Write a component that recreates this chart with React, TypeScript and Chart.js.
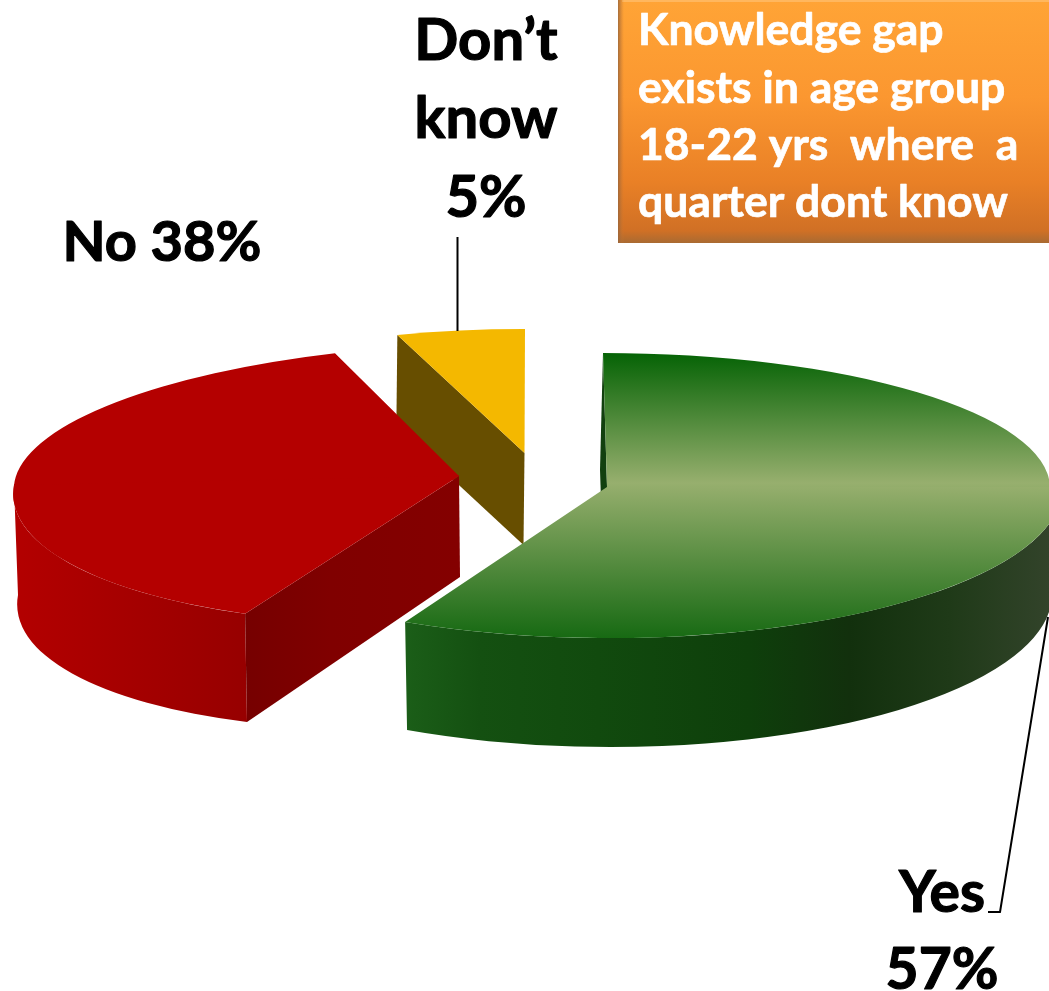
import React, { useEffect, useRef } from "react";
import { Chart, registerables } from "chart.js";

Chart.register(...registerables);

const categories = ["Yes", "No", "Don’t know"];
const shares = [57, 38, 5];
const calloutLines = [
  "Knowledge gap",
  "exists in age group",
  "18-22 yrs  where  a",
  "quarter dont know",
];

type M = [number, number, number, number, number, number];
const R = 100;
const FONT = "Lato, 'Open Sans', sans-serif";

// affine views of the unit pie: x' = a x + b y + e, y' = c x + d y + f
const topFront: M[] = [
  [455, -9, 4, 151, 607, 487],
  [445, -27, -9, 148, 459, 476],
  [413, -0.5, 0.6, 124, 524.5, 453],
];
const bottomFront: M[] = [
  [446, -10, 5, 155, 606, 592],
  [442, -27.4, -18, 151.8, 460, 577],
  [413, -0.5, 0.6, 124, 523.5, 545],
];
const yesTopBack: M = [443, 4, 0, 134, 607, 487];
const yesBottomBack: M = [446, 4, 0, 120, 604, 590];
const noTopBack: M = [445, -14.2, -9, 132, 459, 476];

const labelBlocks = [
  { lines: ["Yes", "57%"], x: 942, ys: [912, 989], size: 57 },
  { lines: ["No 38%"], x: 162, ys: [261], size: 56 },
  { lines: ["Don’t", "know", "5%"], x: 486, ys: [60, 138, 217], size: 58 },
];

const setM = (ctx: CanvasRenderingContext2D, m: M) =>
  ctx.setTransform(m[0], m[2], m[1], m[3], m[4], m[5]);
const pt = (m: M, ang: number): [number, number] => {
  const cx = Math.cos(ang);
  const cy = Math.sin(ang);
  return [m[0] * cx + m[1] * cy + m[4], m[2] * cx + m[3] * cy + m[5]];
};
const poly = (ctx: CanvasRenderingContext2D, pts: [number, number][], fill: any) => {
  ctx.beginPath();
  pts.forEach((p, i) => (i ? ctx.lineTo(p[0], p[1]) : ctx.moveTo(p[0], p[1])));
  ctx.closePath();
  ctx.fillStyle = fill;
  ctx.fill();
};
const wall = (
  ctx: CanvasRenderingContext2D,
  t: M,
  b: M,
  a1: number,
  a2: number,
  fill: CanvasGradient
) => {
  ctx.beginPath();
  setM(ctx, t);
  ctx.arc(0, 0, 1, a1, a2);
  setM(ctx, b);
  ctx.arc(0, 0, 1, a2, a1, true);
  ctx.setTransform(1, 0, 0, 1, 0, 0);
  ctx.closePath();
  ctx.fillStyle = fill;
  ctx.fill();
};
const hGrad = (ctx: CanvasRenderingContext2D, x0: number, x1: number, stops: [number, string][]) => {
  const g = ctx.createLinearGradient(x0, 0, x1, 0);
  stops.forEach(([o, c]) => g.addColorStop(o, c));
  return g;
};
const drawTop = (ctx: CanvasRenderingContext2D, arc: any, m: M) => {
  ctx.save();
  ctx.transform(m[0] / R, m[2] / R, m[1] / R, m[3] / R, m[4], m[5]);
  ctx.translate(-arc.x, -arc.y);
  arc.draw(ctx);
  ctx.restore();
};
const drawTopClipped = (
  ctx: CanvasRenderingContext2D,
  arc: any,
  m: M,
  region: [number, number][]
) => {
  ctx.save();
  ctx.beginPath();
  region.forEach((p, i) => (i ? ctx.lineTo(p[0], p[1]) : ctx.moveTo(p[0], p[1])));
  ctx.closePath();
  ctx.clip();
  drawTop(ctx, arc, m);
  ctx.restore();
};

const piePlugin = {
  id: "pie3d",
  beforeDatasetsDraw(chart: any) {
    const ctx: CanvasRenderingContext2D = chart.ctx;
    const arcs = chart.getDatasetMeta(0).data;
    const [yes, no, dk] = arcs;

    // Don't know: cut face, then top
    ctx.save();
    poly(
      ctx,
      [
        pt(topFront[2], dk.startAngle),
        [topFront[2][4], topFront[2][5]],
        [bottomFront[2][4], bottomFront[2][5]],
        pt(bottomFront[2], dk.startAngle),
      ],
      "#674e00"
    );
    drawTop(ctx, dk, topFront[2]);

    // No: outer wall, cut face, top in two halves
    wall(
      ctx,
      topFront[1],
      bottomFront[1],
      no.startAngle,
      Math.PI,
      hGrad(ctx, 14, 247, [
        [0, "#b30000"],
        [0.5, "#a50000"],
        [1, "#970000"],
      ])
    );
    poly(
      ctx,
      [
        pt(topFront[1], no.startAngle),
        [topFront[1][4], topFront[1][5]],
        [bottomFront[1][4], bottomFront[1][5]],
        pt(bottomFront[1], no.startAngle),
      ],
      hGrad(ctx, 245, 460, [
        [0, "#760000"],
        [0.4, "#800000"],
        [1, "#840000"],
      ])
    );
    drawTopClipped(ctx, no, topFront[1], [
      [-100, 486.3],
      [1100, 462],
      [1100, 991],
      [-100, 991],
    ]);
    drawTopClipped(ctx, no, noTopBack, [
      [-100, 487.3],
      [1100, 463],
      [1100, 0],
      [-100, 0],
    ]);

    // Yes: thin cut face at the back, outer wall, top in two halves
    poly(
      ctx,
      [
        pt(yesTopBack, yes.startAngle),
        [yesTopBack[4], yesTopBack[5]],
        [yesBottomBack[4], yesBottomBack[5]],
        pt(yesBottomBack, yes.startAngle),
      ],
      "#12400f"
    );
    wall(
      ctx,
      topFront[0],
      bottomFront[0],
      0,
      yes.endAngle,
      hGrad(ctx, 405, 1049, [
        [0, "#1b5e18"],
        [0.116, "#145011"],
        [0.3, "#114a0e"],
        [0.535, "#0e3f0b"],
        [0.69, "#12300d"],
        [0.845, "#1f3a18"],
        [1, "#32432a"],
      ])
    );
    drawTopClipped(ctx, yes, yesTopBack, [
      [0, 0],
      [1049, 0],
      [1049, 487],
      [0, 487],
    ]);
    drawTopClipped(ctx, yes, topFront[0], [
      [0, 487],
      [1049, 487],
      [1049, 991],
      [0, 991],
    ]);
    ctx.restore();
    return false;
  },
  afterDraw(chart: any) {
    const ctx: CanvasRenderingContext2D = chart.ctx;
    ctx.save();

    // callout box
    const g = ctx.createLinearGradient(0, 0, 0, 243);
    g.addColorStop(0, "#ffa436");
    g.addColorStop(0.4, "#fb9730");
    g.addColorStop(0.75, "#e98026");
    g.addColorStop(0.95, "#d07025");
    g.addColorStop(1, "#a96a32");
    ctx.fillStyle = g;
    ctx.fillRect(618, 0, 431, 243);
    ctx.fillStyle = "#ffb75e";
    ctx.fillRect(622, 0, 427, 2);
    const side = ctx.createLinearGradient(618, 0, 624, 0);
    side.addColorStop(0, "rgba(150,100,60,0.85)");
    side.addColorStop(1, "rgba(200,120,50,0)");
    ctx.fillStyle = side;
    ctx.fillRect(618, 0, 6, 243);
    ctx.fillStyle = "#fff";
    ctx.strokeStyle = "#fff";
    ctx.lineWidth = 0.7;
    ctx.lineJoin = "round";
    ctx.textAlign = "left";
    ctx.textBaseline = "alphabetic";
    ctx.font = `700 44.5px ${FONT}`;
    calloutLines.forEach((l, i) => {
      const y = [45, 103, 160, 217][i];
      ctx.fillText(l, 638, y);
      ctx.strokeText(l, 638, y);
    });

    // leader lines
    ctx.strokeStyle = "#000";
    ctx.lineWidth = 2;
    ctx.beginPath();
    ctx.moveTo(457.5, 237);
    ctx.lineTo(457.5, 331);
    ctx.moveTo(1048, 617);
    ctx.lineTo(1000, 912);
    ctx.lineTo(988, 912);
    ctx.stroke();

    // slice labels
    ctx.fillStyle = "#000";
    ctx.textAlign = "center";
    ctx.lineWidth = 1.2;
    labelBlocks.forEach((b) => {
      ctx.font = `700 ${b.size}px ${FONT}`;
      b.lines.forEach((l, i) => {
        ctx.fillText(l, b.x, b.ys[i]);
        ctx.strokeText(l, b.x, b.ys[i]);
      });
    });
    ctx.restore();
  },
};

const yesFill = (c: any) => {
  const area = c.chart.chartArea;
  if (!area) return "#2f7a25";
  const my = (area.top + area.bottom) / 2;
  const g = c.chart.ctx.createLinearGradient(0, my - R, 0, my + R);
  g.addColorStop(0, "#056305");
  g.addColorStop(0.485, "#97af6e");
  g.addColorStop(1, "#176a13");
  return g;
};

export default function App() {
  const ref = useRef<HTMLCanvasElement>(null);
  useEffect(() => {
    const chart = new Chart(ref.current as HTMLCanvasElement, {
      type: "pie",
      data: {
        labels: categories,
        datasets: [
          {
            data: shares,
            backgroundColor: (c: any) =>
              c.dataIndex === 0 ? yesFill(c) : c.dataIndex === 1 ? "#b40000" : "#f4b800",
            borderWidth: 0,
          },
        ],
      },
      options: {
        animation: false,
        responsive: false,
        devicePixelRatio: 1,
        radius: R,
        layout: { padding: 0 },
        plugins: { legend: { display: false }, tooltip: { enabled: false }, title: { display: false } },
      } as any,
      plugins: [piePlugin as any],
    });
    return () => chart.destroy();
  }, []);
  return (
    <div style={{ position: "absolute", left: 0, top: 0, width: 1049, height: 991, background: "#fff", overflow: "hidden" }}>
      <canvas ref={ref} width={1049} height={991} style={{ display: "block" }} />
    </div>
  );
}
